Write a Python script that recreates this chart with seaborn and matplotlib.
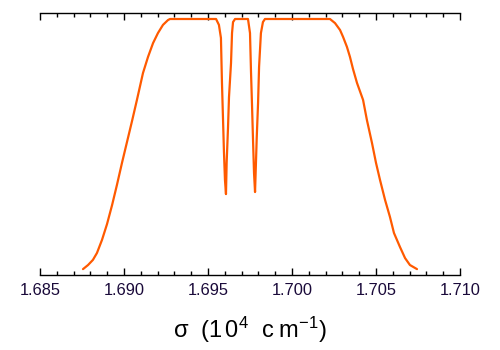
import numpy as np
import pandas as pd
import matplotlib
matplotlib.use("Agg")
import matplotlib.pyplot as plt
from matplotlib.ticker import MultipleLocator, FormatStrFormatter
import seaborn as sns

# wavenumber (10^4 cm^-1)
sigma = [
    1.68756, 1.68786, 1.68815, 1.68839, 1.68869, 1.68899, 1.68929, 1.68958,
    1.68988, 1.69018, 1.69048, 1.69077, 1.69113, 1.69143, 1.69173, 1.69202,
    1.69232, 1.69262, 1.69274, 1.69548,
    1.69565, 1.69577, 1.69583, 1.69589, 1.69595, 1.69601, 1.69607, 1.69611,
    1.69619, 1.69625, 1.69637, 1.69643, 1.69649, 1.69661, 1.69738,
    1.69750, 1.69756, 1.69762, 1.69768, 1.69774, 1.69780, 1.69790, 1.69798,
    1.69804, 1.69815, 1.69827, 1.69839, 1.70226,
    1.70256, 1.70286, 1.70304, 1.70327, 1.70345, 1.70363, 1.70387, 1.70423,
    1.70446, 1.70476, 1.70500, 1.70524, 1.70554, 1.70583, 1.70607, 1.70643,
    1.70673, 1.70702, 1.70744,
]
# transmission (arbitrary units)
transmission = [
    0.023, 0.039, 0.059, 0.086, 0.137, 0.199, 0.273, 0.352,
    0.438, 0.520, 0.602, 0.684, 0.789, 0.852, 0.906, 0.945,
    0.977, 0.996, 1.000, 1.000,
    0.977, 0.926, 0.754, 0.617, 0.480, 0.371, 0.316, 0.438,
    0.574, 0.695, 0.828, 0.945, 0.988, 1.000, 1.000,
    0.945, 0.793, 0.664, 0.527, 0.398, 0.324, 0.535, 0.672,
    0.813, 0.945, 0.988, 1.000, 1.000,
    0.984, 0.957, 0.930, 0.891, 0.852, 0.805, 0.750, 0.684,
    0.605, 0.516, 0.438, 0.371, 0.293, 0.227, 0.164, 0.109,
    0.066, 0.039, 0.023,
]
xticks = [1.685, 1.690, 1.695, 1.700, 1.705, 1.710]

df = pd.DataFrame({"sigma": sigma, "T": transmission})

sns.set_style("white")
plt.rcParams["font.family"] = ["Liberation Sans", "DejaVu Sans"]
plt.rcParams["mathtext.fontset"] = "custom"
plt.rcParams["mathtext.rm"] = "Liberation Sans"
plt.rcParams["mathtext.it"] = "Liberation Sans"
plt.rcParams["mathtext.sf"] = "Liberation Sans"

fig = plt.figure(figsize=(5, 3.5), dpi=100)
ax = fig.add_axes([0.08, 1 - 275 / 350, 0.84, 262 / 350])

sns.lineplot(data=df, x="sigma", y="T", ax=ax, color="#ff5a00", linewidth=1.6,
             sort=False, estimator=None)

ax.set_xlim(1.685, 1.710)
ax.set_ylim(0, 262 / 256)
ax.set_xticks(xticks)
ax.xaxis.set_major_formatter(FormatStrFormatter("%.3f"))
ax.xaxis.set_minor_locator(MultipleLocator(0.001))
ax.set_yticks([])
ax.set_ylabel("")

for s in ["left", "right"]:
    ax.spines[s].set_visible(False)
for s in ["top", "bottom"]:
    ax.spines[s].set_visible(True)
    ax.spines[s].set_color("black")
    ax.spines[s].set_linewidth(1.0)

ax.tick_params(axis="x", which="both", direction="in", top=True, bottom=True,
               labeltop=False, color="black", width=1.0)
ax.tick_params(axis="x", which="major", length=5, pad=6, labelsize=11.8,
               labelcolor="#1a0a3a")
ax.tick_params(axis="x", which="minor", length=3)

ax.set_xlabel(r"$\sigma\ \ (1\,0^{4}\ \ \mathrm{c\;m}^{-1})$", fontsize=17,
              color="black", labelpad=12)

fig.savefig("out.png", dpi=100)
